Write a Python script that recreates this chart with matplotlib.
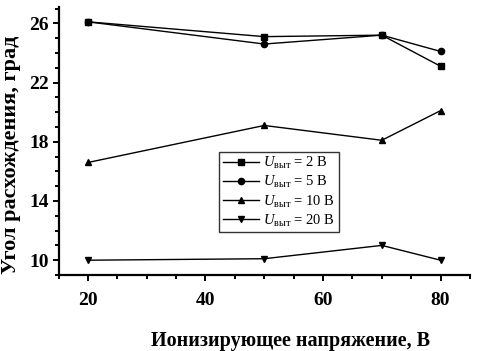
import matplotlib
matplotlib.use('Agg')
import matplotlib.pyplot as plt

plt.rcParams['font.family'] = ['Liberation Serif', 'DejaVu Serif']
plt.rcParams['mathtext.fontset'] = 'custom'
plt.rcParams['mathtext.rm'] = 'Liberation Serif'
plt.rcParams['mathtext.it'] = 'Liberation Serif:italic'

# Data
voltage = [20, 50, 70, 80]
angle_2v = [26.1, 25.1, 25.2, 23.1]
angle_5v = [26.1, 24.6, 25.2, 24.1]
angle_10v = [16.6, 19.1, 18.1, 20.1]
angle_20v = [10.0, 10.1, 11.0, 10.0]

x_ticks = [20, 40, 60, 80]
y_ticks = [10, 14, 18, 22, 26]

series = [
    (angle_2v, 's', 4, r'$U_{\mathrm{выт}}$ = 2 В'),
    (angle_5v, 'o', 4.5, r'$U_{\mathrm{выт}}$ = 5 В'),
    (angle_10v, '^', 5, r'$U_{\mathrm{выт}}$ = 10 В'),
    (angle_20v, 'v', 5, r'$U_{\mathrm{выт}}$ = 20 В'),
]

fig = plt.figure(figsize=(4.8, 3.51), dpi=100)
ax = fig.add_axes([0.122, 0.2165, 0.857, 0.7635])

for values, marker, ms, label in series:
    ax.plot(voltage, values, color='black', lw=1, marker=marker, ms=ms, label=label)

ax.set_xlim(15, 85)
ax.set_ylim(9, 27.1)
ax.set_xticks(x_ticks)
ax.set_xticks(range(15, 86, 5), minor=True)
ax.set_yticks(y_ticks)
ax.set_yticks(range(9, 28), minor=True)

for side in ['top', 'right']:
    ax.spines[side].set_visible(False)
for side in ['left', 'bottom']:
    ax.spines[side].set_linewidth(1.6)

ax.tick_params(which='both', direction='out', width=1.4, labelsize=14)
ax.tick_params(which='major', length=4)
ax.tick_params(which='minor', length=3)
ax.tick_params(axis='x', pad=8)
ax.tick_params(axis='y', pad=3)
for lab in ax.get_xticklabels() + ax.get_yticklabels():
    lab.set_fontweight('bold')

ax.set_xlabel('Ионизирующее напряжение, В', fontsize=14.5, fontweight='bold')
ax.xaxis.set_label_coords(0.565, -0.21)
ax.set_ylabel('Угол расхождения, град', fontsize=16, fontweight='bold')
ax.yaxis.set_label_coords(-0.092, 0.45)

leg = ax.legend(loc='upper left', bbox_to_anchor=(0.39, 0.46), fontsize=10.5,
                frameon=True, fancybox=False, edgecolor='black',
                handlelength=2.5, handletextpad=0.3, labelspacing=0.2,
                borderpad=0.25, borderaxespad=0)
leg.get_frame().set_linewidth(1)

fig.savefig('out.png', dpi=100)
